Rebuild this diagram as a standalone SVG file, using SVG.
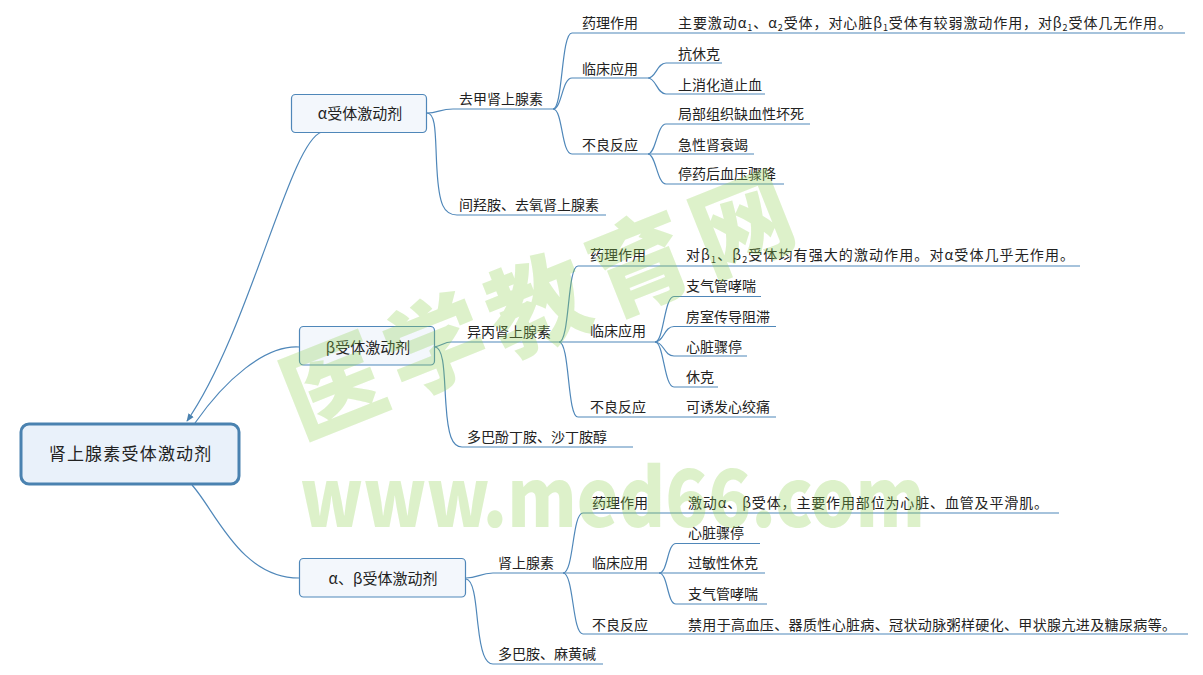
<svg xmlns="http://www.w3.org/2000/svg" width="1203" height="675" viewBox="0 0 1203 675">
<style>
.t{font-family:"Noto Sans CJK SC","Noto Sans",sans-serif;font-size:14px;fill:#222}
.n{font-size:15px}
.r{font-size:17px;letter-spacing:1.2px}
.ln{fill:none;stroke:#4f87b9;stroke-width:1.2}
.box{fill:#f3f7fc;stroke:#4f87b9;stroke-width:1.2}
.root{fill:#e9f1fa;stroke:#4a82b0;stroke-width:3}
.wm{font-family:"Noto Sans CJK SC","Liberation Sans",sans-serif;font-weight:900;fill:#8fd14f;fill-opacity:0.3}
</style>
<defs>
<marker id="arr" viewBox="0 0 10 10" refX="9" refY="5" markerWidth="8" markerHeight="8" markerUnits="userSpaceOnUse" orient="auto">
<path d="M0,1 L10,5 L0,9 z" fill="#4a82b0"/>
</marker>
</defs>
<rect width="1203" height="675" fill="#fff"/>

<g id="connectors">
<path class="ln" d="M322,132 C290,140 250,330 187,421" marker-end="url(#arr)"/>
<path class="ln" d="M299,347 C265,345 225,380 195,423"/>
<path class="ln" d="M192,485 C215,510 240,578 299,578"/>
<path class="ln" d="M427,113 C438,113 440,109 453,109"/>
<path class="ln" d="M427,113 C437,113 435,140 437,170 C439,205 444,215 457,215"/>
<path class="ln" d="M434,347 C442,346 444,342 451,342"/>
<path class="ln" d="M435,347 C445,348 444,380 446,405 C448,435 452,447 462,447"/>
<path class="ln" d="M466,578 C478,578 480,573 493,573"/>
<path class="ln" d="M466,579 C475,580 476,610 478,625 C481,652 485,664 493,664"/>
<path class="ln" d="M553,109 C563,109 561,33 572,33"/>
<path class="ln" d="M553,109 C562,109 562,78 572,78"/>
<path class="ln" d="M553,109 C563,109 561,154 572,154"/>
<path class="ln" d="M648,78 C656,78 657,63 666,63"/>
<path class="ln" d="M648,78 C656,78 657,94 666,94"/>
<path class="ln" d="M648,154 C656,154 657,124 666,124"/>
<path class="ln" d="M648,154 C656,154 657,184 666,184"/>
<path class="ln" d="M559,342 C570,342 567,266 578,266"/>
<path class="ln" d="M559,342 C570,342 567,417 578,417"/>
<path class="ln" d="M655,342 C664,342 664,296.5 674,296.5"/>
<path class="ln" d="M655,342 C664,342 664,326.5 674,326.5"/>
<path class="ln" d="M655,342 C664,342 664,356 674,356"/>
<path class="ln" d="M655,342 C664,342 664,387 674,387"/>
<path class="ln" d="M563,573 C574,573 572,513 583,513"/>
<path class="ln" d="M563,573 C574,573 572,634 583,634"/>
<path class="ln" d="M659,573 C668,573 667,543.5 676,543.5"/>
<path class="ln" d="M659,573 C668,573 667,604 676,604"/>
</g>

<g id="root">
<rect class="root" x="21" y="424" width="218" height="60" rx="8"/>
<text class="t r" x="130.6" y="460" text-anchor="middle">肾上腺素受体激动剂</text>
</g>

<g id="n-alpha">
<rect class="box" x="291.5" y="94.5" width="135" height="38" rx="4"/>
<text class="t n" x="360" y="118.5" text-anchor="middle">α受体激动剂</text>
</g>
<g id="n-beta">
<rect class="box" x="299.5" y="326.5" width="135" height="38.5" rx="4"/>
<text class="t n" x="368" y="352.5" text-anchor="middle">β受体激动剂</text>
</g>
<g id="n-ab">
<rect class="box" x="299.5" y="558.5" width="166" height="38.5" rx="4"/>
<text class="t n" x="383" y="583.5" text-anchor="middle">α、β受体激动剂</text>
</g>

<g id="n-ne">
<text class="t" x="459" y="103.5">去甲肾上腺素</text>
<path class="ln" d="M453,109 H553"/>
</g>
<g id="n-ne-1">
<text class="t" x="582" y="28">药理作用</text>
<path class="ln" d="M572,33 H663"/>
</g>
<g id="n-ne-1a">
<text class="t" x="678" y="28" textLength="494" lengthAdjust="spacing">主要激动α<tspan font-size="9" dy="3">1</tspan><tspan dy="-3">、α</tspan><tspan font-size="9" dy="3">2</tspan><tspan dy="-3">受体，对心脏β</tspan><tspan font-size="9" dy="3">1</tspan><tspan dy="-3">受体有较弱激动作用，对β</tspan><tspan font-size="9" dy="3">2</tspan><tspan dy="-3">受体几无作用。</tspan></text>
<path class="ln" d="M663,33 H1185"/>
</g>
<g id="n-ne-2">
<text class="t" x="582" y="73.5">临床应用</text>
<path class="ln" d="M572,78 H648"/>
</g>
<g id="n-ne-2a">
<text class="t" x="678" y="58.5">抗休克</text>
<path class="ln" d="M666,63 H722"/>
</g>
<g id="n-ne-2b">
<text class="t" x="678" y="89.5">上消化道止血</text>
<path class="ln" d="M666,94 H765"/>
</g>
<g id="n-ne-3">
<text class="t" x="582" y="149.5">不良反应</text>
<path class="ln" d="M572,154 H648"/>
</g>
<g id="n-ne-3a">
<text class="t" x="678" y="118.5">局部组织缺血性坏死</text>
<path class="ln" d="M666,124 H810"/>
</g>
<g id="n-ne-3b">
<text class="t" x="678" y="149.5">急性肾衰竭</text>
<path class="ln" d="M648,154 H754"/>
</g>
<g id="n-ne-3c">
<text class="t" x="678" y="178.5">停药后血压骤降</text>
<path class="ln" d="M666,184 H784"/>
</g>
<g id="n-meta">
<text class="t" x="459" y="209.5">间羟胺、去氧肾上腺素</text>
<path class="ln" d="M457,215 H606"/>
</g>

<g id="n-iso">
<text class="t" x="467" y="337">异丙肾上腺素</text>
<path class="ln" d="M451,342 H559"/>
</g>
<g id="n-iso-1">
<text class="t" x="590" y="260">药理作用</text>
<path class="ln" d="M578,266 H668"/>
</g>
<g id="n-iso-1a">
<text class="t" x="686" y="260" textLength="388" lengthAdjust="spacing">对β<tspan font-size="9" dy="3">1</tspan><tspan dy="-3">、β</tspan><tspan font-size="9" dy="3">2</tspan><tspan dy="-3">受体均有强大的激动作用。对α受体几乎无作用。</tspan></text>
<path class="ln" d="M668,266 H1080"/>
</g>
<g id="n-iso-2">
<text class="t" x="590" y="336">临床应用</text>
<path class="ln" d="M559,342 H655"/>
</g>
<g id="n-iso-2a">
<text class="t" x="686" y="291.3">支气管哮喘</text>
<path class="ln" d="M674,296.5 H761"/>
</g>
<g id="n-iso-2b">
<text class="t" x="686" y="322">房室传导阻滞</text>
<path class="ln" d="M674,326.5 H776"/>
</g>
<g id="n-iso-2c">
<text class="t" x="686" y="351.7">心脏骤停</text>
<path class="ln" d="M674,356 H747"/>
</g>
<g id="n-iso-2d">
<text class="t" x="686" y="382">休克</text>
<path class="ln" d="M674,387 H718"/>
</g>
<g id="n-iso-3">
<text class="t" x="590" y="412">不良反应</text>
<path class="ln" d="M578,417 H668"/>
</g>
<g id="n-iso-3a">
<text class="t" x="686" y="412">可诱发心绞痛</text>
<path class="ln" d="M668,417 H776"/>
</g>
<g id="n-dob">
<text class="t" x="467" y="441.5">多巴酚丁胺、沙丁胺醇</text>
<path class="ln" d="M462,447 H633"/>
</g>

<g id="n-epi">
<text class="t" x="498" y="568">肾上腺素</text>
<path class="ln" d="M493,573 H563"/>
</g>
<g id="n-epi-1">
<text class="t" x="592" y="508">药理作用</text>
<path class="ln" d="M583,513 H675"/>
</g>
<g id="n-epi-1a">
<text class="t" x="688" y="508" textLength="360" lengthAdjust="spacing">激动α、β受体，主要作用部位为心脏、血管及平滑肌。</text>
<path class="ln" d="M675,513 H1059"/>
</g>
<g id="n-epi-2">
<text class="t" x="592" y="568">临床应用</text>
<path class="ln" d="M563,573 H659"/>
</g>
<g id="n-epi-2a">
<text class="t" x="688" y="538">心脏骤停</text>
<path class="ln" d="M676,543.5 H760"/>
</g>
<g id="n-epi-2b">
<text class="t" x="688" y="568">过敏性休克</text>
<path class="ln" d="M659,573 H765"/>
</g>
<g id="n-epi-2c">
<text class="t" x="688" y="598.6">支气管哮喘</text>
<path class="ln" d="M676,604 H767"/>
</g>
<g id="n-epi-3">
<text class="t" x="592" y="630">不良反应</text>
<path class="ln" d="M583,634 H675"/>
</g>
<g id="n-epi-3a">
<text class="t" x="688" y="630" textLength="488" lengthAdjust="spacing">禁用于高血压、器质性心脏病、冠状动脉粥样硬化、甲状腺亢进及糖尿病等。</text>
<path class="ln" d="M675,634 H1188"/>
</g>
<g id="n-dop">
<text class="t" x="498" y="658.5">多巴胺、麻黄碱</text>
<path class="ln" d="M493,664 H603"/>
</g>

<g id="watermark">
<text class="wm" font-size="100" letter-spacing="10" text-anchor="middle" dominant-baseline="central" transform="translate(540,297) rotate(-21.7)">医学教育网</text>
<text class="wm" x="300" y="527" font-size="80" font-family="Liberation Sans,sans-serif" font-weight="700" textLength="625" lengthAdjust="spacingAndGlyphs">www.med66.com</text>
</g>
</svg>
